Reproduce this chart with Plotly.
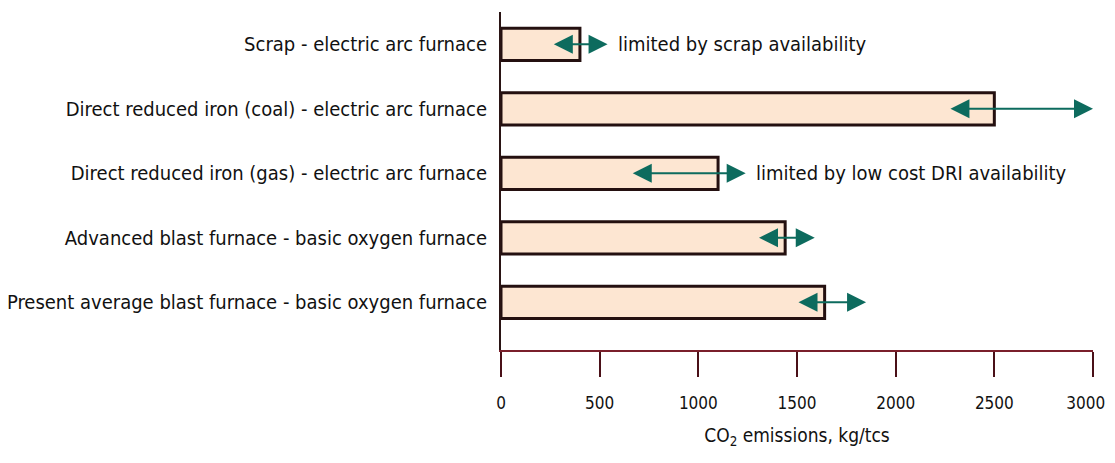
import plotly.graph_objects as go

# process routes, top to bottom
routes = [
    "Scrap - electric arc furnace",
    "Direct reduced iron (coal) - electric arc furnace",
    "Direct reduced iron (gas) - electric arc furnace",
    "Advanced blast furnace - basic oxygen furnace",
    "Present average blast furnace - basic oxygen furnace",
]
emissions = [400, 2500, 1100, 1440, 1640]
range_low = [260, 2270, 660, 1300, 1500]
range_high = [540, 3000, 1240, 1590, 1850]
notes = ["limited by scrap availability", "", "limited by low cost DRI availability", "", ""]
x_ticks = [0, 500, 1000, 1500, 2000, 2500, 3000]
# the last label is padded so it is not cut at the window edge
x_tick_labels = ["0", "500", "1000", "1500", "2000", "2500", "3000\u00a0\u00a0\u00a0"]

FONT = "DejaVu Sans Condensed, Liberation Sans Narrow, sans-serif"
TEAL = "#0d6b5e"

fig = go.Figure(
    go.Bar(
        x=emissions,
        y=routes,
        orientation="h",
        width=0.5,
        marker=dict(color="#fde6d2", line=dict(color="#241010", width=3)),
        hoverinfo="x+y",
    )
)

annotations = []
for name, lo, hi, note in zip(routes, range_low, range_high, notes):
    annotations.append(
        dict(
            x=hi, y=name, ax=lo, ay=name,
            xref="x", yref="y", axref="x", ayref="y",
            text="", showarrow=True,
            arrowhead=2, arrowsize=1.9, arrowwidth=2,
            arrowside="end+start", arrowcolor=TEAL,
        )
    )
    if note:
        annotations.append(
            dict(
                x=hi, y=name, xref="x", yref="y",
                text=note, showarrow=False,
                xanchor="left", xshift=8,
                font=dict(family=FONT, size=20, color="#111111"),
            )
        )

# the page body has an 8px margin, so shift the figure to fit the window
fig.update_layout(
    width=1107,
    height=447,
    margin=dict(l=493, r=22, t=4, b=105, autoexpand=False),
    paper_bgcolor="white",
    plot_bgcolor="white",
    showlegend=False,
    font=dict(family=FONT, size=20, color="#111111"),
    annotations=annotations,
    xaxis=dict(
        range=[0, 3000],
        tickvals=x_ticks,
        ticktext=x_tick_labels,
        ticks="outside",
        ticklen=25,
        tickwidth=2,
        tickcolor="#4a1018",
        tickfont=dict(size=17),
        ticklabelstandoff=12,
        ticklabeloverflow="allow",
        showline=True,
        linecolor="#7a1f2b",
        linewidth=2,
        showgrid=False,
        zeroline=False,
        title=dict(text="CO<sub>2</sub> emissions, kg/tcs", standoff=16, font=dict(size=19)),
    ),
    yaxis=dict(
        range=[4.74, -0.5],
        showline=True,
        linecolor="#2a1414",
        linewidth=2,
        ticks="",
        ticklabelstandoff=8,
        showgrid=False,
        zeroline=False,
    ),
)

fig.write_html("out.html")
